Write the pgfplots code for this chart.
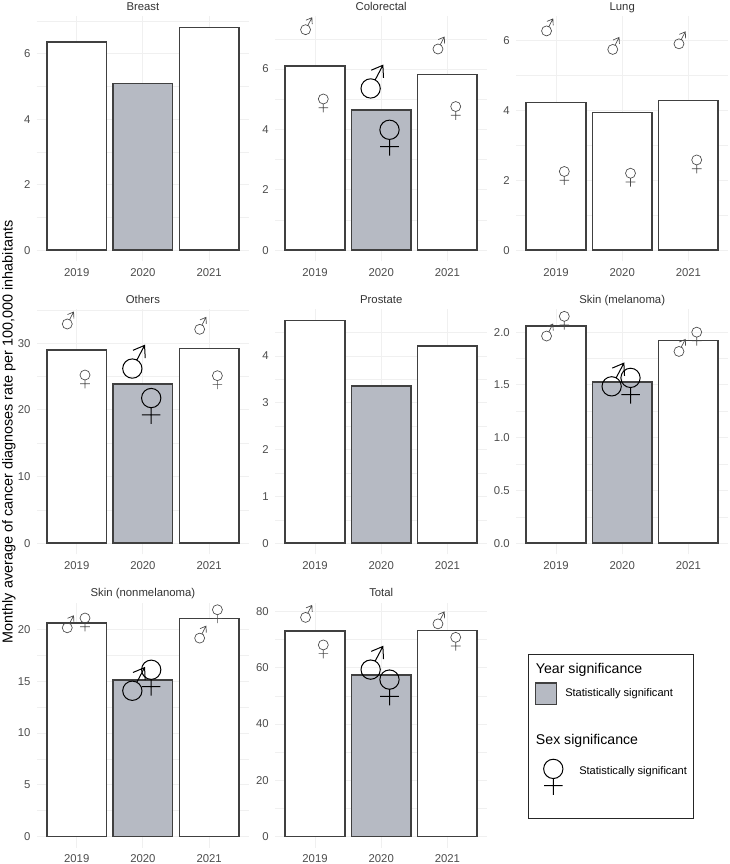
\documentclass[border=0pt]{standalone}
\usepackage{fontspec}
\setmainfont{Liberation Sans}
\usepackage{pgfplots}
\pgfplotsset{compat=1.18}
\definecolor{barfill}{HTML}{B6BAC3}
\definecolor{baredge}{HTML}{404040}
\definecolor{gridc}{HTML}{F0F0F0}
\definecolor{tickc}{HTML}{4D4D4D}
\definecolor{smallc}{HTML}{4A4A4A}
% marks: unit is one pixel = 0.75pt, origin at the glyph's centre
\pgfdeclareplotmark{female}{%
  \pgfpathcircle{\pgfpoint{0pt}{3.15pt}}{3.75pt}%
  \pgfpathmoveto{\pgfpoint{0pt}{-0.6pt}}\pgfpathlineto{\pgfpoint{0pt}{-6.9pt}}%
  \pgfpathmoveto{\pgfpoint{-3.6pt}{-3.4pt}}\pgfpathlineto{\pgfpoint{3.6pt}{-3.4pt}}%
  \pgfusepathqstroke}
\pgfdeclareplotmark{male}{%
  \pgfpathcircle{\pgfpoint{-0.9pt}{-2.6pt}}{3.75pt}%
  \pgfpathmoveto{\pgfpoint{0.85pt}{0.7pt}}\pgfpathlineto{\pgfpoint{3.85pt}{6.4pt}}%
  \pgfpathmoveto{\pgfpoint{-0.65pt}{4.5pt}}\pgfpathlineto{\pgfpoint{3.85pt}{6.4pt}}\pgfpathlineto{\pgfpoint{4.1pt}{1.5pt}}%
  \pgfusepathqstroke}
\pgfplotsset{
  panel/.style n args={4}{
    at={({#1*0.75pt},{(864-#2-11.1)*0.75pt})}, anchor=south west,
    ymin=#3, ymax=#4},
  every axis/.append style={
    scale only axis, width=158.9pt, height=183.75pt,
    xmin=0.4, xmax=3.6, xtick={1,2,3}, xticklabels={2019,2020,2021},
    axis line style={draw=none}, tick style={draw=none}, minor tick style={draw=none},
    xmajorgrids, ymajorgrids, yminorgrids,
    major grid style={gridc, line width=0.7pt},
    minor grid style={gridc, line width=0.4pt},
    clip=false,
    /pgf/number format/assume math mode=true,
    tick label style={font=\fontsize{8.5}{10}\selectfont, text=tickc},
    xticklabel style={inner sep=0pt, yshift=-5.2pt},
    yticklabel style={inner sep=0pt, xshift=-4.75pt},
    title style={font=\fontsize{8.5}{10}\selectfont, text=black!80, inner sep=0pt, anchor=base, at={(0.5,1)}, yshift=-1.5pt},
  },
  wbar/.style={ybar, bar width=0.9, bar shift=0pt, draw=baredge, line width=1.15pt, fill=white},
  gbar/.style={ybar, bar width=0.9, bar shift=0pt, draw=baredge, line width=1.15pt, fill=barfill},
  mS/.style={only marks, mark=male, mark options={draw=smallc, line width=0.5pt, fill=none}},
  fS/.style={only marks, mark=female, mark options={draw=smallc, line width=0.5pt, fill=none}},
  mL/.style={only marks, mark=male, mark options={scale=1.93, draw=black, line width=0.75pt, fill=none}},
  fL/.style={only marks, mark=female, mark options={scale=1.93, draw=black, line width=0.75pt, fill=none}},
}
\begin{document}
\begin{tikzpicture}[x=0.75pt,y=0.75pt]
\path[use as bounding box, fill=white] (0,0) rectangle (729,864);

% Breast
\begin{axis}[panel={37}{250.2}{-0.34}{7.14}, title={Breast}, ytick={0,2,4,6}, minor ytick={1,3,5,7}]
\addplot[wbar] coordinates {(1,6.35) (3,6.80)};
\addplot[gbar] coordinates {(2,5.09)};
\end{axis}

% Colorectal
\begin{axis}[panel={275.3}{250.2}{-0.369}{7.749}, title={Colorectal}, ytick={0,2,4,6}, minor ytick={1,3,5,7}]
\addplot[wbar] coordinates {(1,6.11) (3,5.82)};
\addplot[gbar] coordinates {(2,4.65)};
\addplot[mS] coordinates {(0.875,7.42) (2.875,6.78)};
\addplot[fS] coordinates {(1.125,4.87) (3.125,4.62)};
\addplot[mL] coordinates {(1.875,5.58)};
\addplot[fL] coordinates {(2.125,3.72)};
\end{axis}

% Lung
\begin{axis}[panel={516.3}{250.2}{-0.3185}{6.6885}, title={Lung}, ytick={0,2,4,6}, minor ytick={1,3,5}]
\addplot[wbar] coordinates {(1,4.22) (3,4.28)};
\addplot[wbar] coordinates {(2,3.94)};
\addplot[mS] coordinates {(0.875,6.37) (1.875,5.84) (2.875,6.00)};
\addplot[fS] coordinates {(1.125,2.13) (2.125,2.08) (3.125,2.46)};
\end{axis}

% Others
\begin{axis}[panel={37}{543.3}{-1.67}{35.07}, title={Others}, ytick={0,10,20,30}, minor ytick={5,15,25,35}]
\addplot[wbar] coordinates {(1,28.95) (3,29.2)};
\addplot[gbar] coordinates {(2,23.9)};
\addplot[mS] coordinates {(0.875,33.4) (2.875,32.6)};
\addplot[fS] coordinates {(1.125,24.6) (3.125,24.5)};
\addplot[mL] coordinates {(1.875,27.2)};
\addplot[fL] coordinates {(2.125,20.56)};
\end{axis}

% Prostate
\begin{axis}[panel={275.3}{543.3}{-0.238}{4.998}, title={Prostate}, ytick={0,1,2,3,4}, minor ytick={0.5,1.5,2.5,3.5,4.5}]
\addplot[wbar] coordinates {(1,4.76) (3,4.22)};
\addplot[gbar] coordinates {(2,3.36)};
\end{axis}

% Skin (melanoma)
\begin{axis}[panel={516.3}{543.3}{-0.1055}{2.2155}, title={Skin (melanoma)}, ytick={0,0.5,1,1.5,2}, minor ytick={0.25,0.75,1.25,1.75},
  yticklabel style={/pgf/number format/fixed, /pgf/number format/fixed zerofill, /pgf/number format/precision=1}]
\addplot[wbar] coordinates {(1,2.057) (3,1.92)};
\addplot[gbar] coordinates {(2,1.53)};
\addplot[mS] coordinates {(0.875,1.996) (2.875,1.85)};
\addplot[fS] coordinates {(1.125,2.11) (3.125,1.96)};
\addplot[mL] coordinates {(1.875,1.55)};
\addplot[fL] coordinates {(2.125,1.49)};
\end{axis}

% Skin (nonmelanoma)
\begin{axis}[panel={37}{836.7}{-1.075}{22.575}, title={Skin (nonmelanoma)}, ytick={0,5,10,15,20}, minor ytick={2.5,7.5,12.5,17.5}]
\addplot[wbar] coordinates {(1,20.65) (3,21.04)};
\addplot[gbar] coordinates {(2,15.1)};
\addplot[mS] coordinates {(0.875,20.5) (2.875,19.5)};
\addplot[fS] coordinates {(1.125,20.7) (3.125,21.5)};
\addplot[mL] coordinates {(1.875,14.73)};
\addplot[fL] coordinates {(2.125,15.33)};
\end{axis}

% Total
\begin{axis}[panel={275.3}{836.7}{-3.955}{83.055}, title={Total}, ytick={0,20,40,60,80}, minor ytick={10,30,50,70}]
\addplot[wbar] coordinates {(1,73.1) (3,73.3)};
\addplot[gbar] coordinates {(2,57.5)};
\addplot[mS] coordinates {(0.875,79.1) (2.875,76.8)};
\addplot[fS] coordinates {(1.125,66.6) (3.125,69.3)};
\addplot[mL] coordinates {(1.875,61.7)};
\addplot[fL] coordinates {(2.125,52.9)};
\end{axis}

% y label
\node[rotate=90, anchor=center, font=\fontsize{10.8}{12}\selectfont, inner sep=0pt] at (9,432) {Monthly average of cancer diagnoses rate per 100,000 inhabitants};

% legend box and keys
\draw[black!85, line width=0.75pt] (528.3,45.3) rectangle (693.7,209.7);
\node[anchor=base west, inner sep=0pt, font=\fontsize{10.6}{12}\selectfont] at (535.7,190.7) {Year significance};
\node[anchor=base west, inner sep=0pt, font=\fontsize{10.6}{12}\selectfont] at (535.7,119) {Sex significance};
\node[anchor=west, inner sep=0pt, font=\fontsize{8.3}{10}\selectfont] at (565,170.3) {Statistically significant};
\node[anchor=west, inner sep=0pt, font=\fontsize{8.3}{10}\selectfont] at (579,92) {Statistically significant};
\begin{axis}[at={(528.3,45.3)}, anchor=south west, scale only axis, width=124.05pt, height=123.3pt,
  xmin=528.3, xmax=693.7, ymin=45.3, ymax=209.7, hide axis]
\addplot[only marks, mark=square*, mark size=7.9pt, mark options={draw=baredge, line width=1pt, fill=barfill}] coordinates {(546.3,170.3)};
\addplot[fL] coordinates {(553.3,87)};
\end{axis}
\end{tikzpicture}
\end{document}
